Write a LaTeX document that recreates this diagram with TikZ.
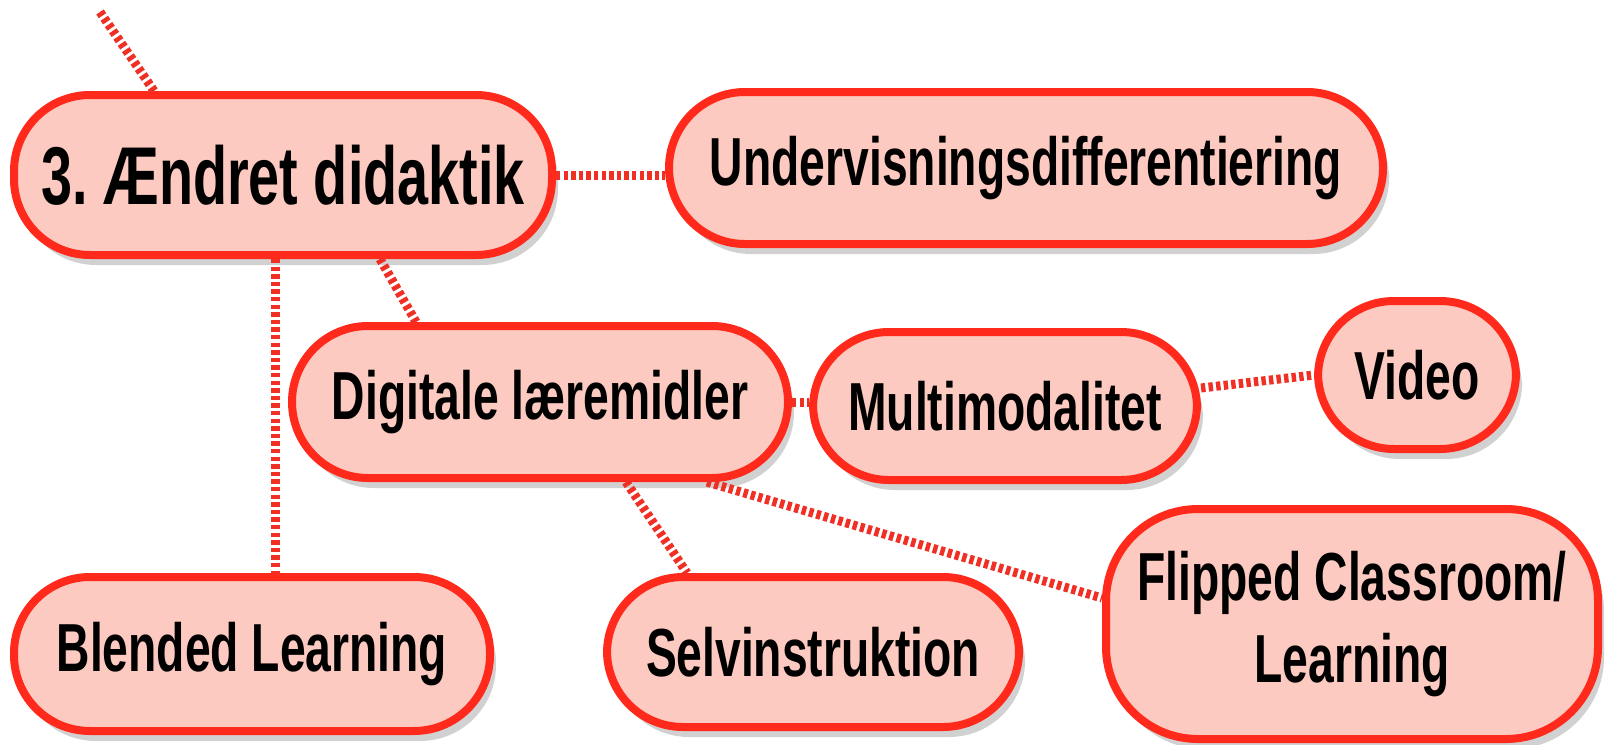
\documentclass[tikz,border=0pt]{standalone}
\usepackage{fontspec}
\setmainfont{Liberation Sans}[FakeStretch=0.68]
\usetikzlibrary{positioning,shadows,calc}
\definecolor{boxfill}{HTML}{FCCAC0}
\definecolor{boxline}{HTML}{FF2A1C}
\definecolor{linkred}{HTML}{F03024}
\frenchspacing
\begin{document}
\begin{tikzpicture}[x=0.5pt, y=-0.5pt, font=\bfseries\fontsize{34}{41}\selectfont, line join=round,
    topic/.style={draw=boxline, fill=boxfill, line width=4pt, rounded corners=38pt, align=center,
        inner sep=0pt, drop shadow={shadow xshift=3pt, shadow yshift=-5pt, opacity=.18, fill=black}},
    link/.style={draw=linkred, line width=4.5pt, dash pattern=on 2.2pt off 1.6pt}]
    \useasboundingbox (0,0) rectangle (1609,744);
    \node[topic, minimum width=269pt, minimum height=80pt, font=\bfseries\fontsize{41}{48}\selectfont] (ae) at (283,175) {3. Ændret didaktik};
    \node[topic, minimum width=357pt, minimum height=76pt] (ud) at (1026,168) {Undervisningsdifferentiering};
    \node[topic, minimum width=248pt, minimum height=76pt] (dl) at (540,402) {Digitale læremidler};
    \node[topic, minimum width=192pt, minimum height=74pt] (mm) at (1005,406) {Multimodalitet};
    \node[topic, minimum width=99pt, minimum height=74pt] (vi) at (1417,375) {Video};
    \node[topic, minimum width=238pt, minimum height=77pt] (bl) at (252,654) {Blended Learning};
    \node[topic, minimum width=206pt, minimum height=75pt] (si) at (813,652) {Selvinstruktion};
    \node[topic, rounded corners=46pt, minimum width=246pt, minimum height=115pt] (fc) at (1352,624) {Flipped Classroom/\\Learning};
    \coordinate (up) at (100,12);
    \draw[link] (up) -- ([xshift=-64.5pt]ae.north);
    \draw[link] (ae.east) -- (ae.east -| ud.west);
    \draw[link] ([xshift=48.5pt]ae.south) -- ([xshift=-62pt]dl.north);
    \draw[link] ([xshift=-4pt]ae.south) -- ([xshift=-4pt]ae.south |- bl.north);
    \draw[link] (dl.east) -- (dl.east -| mm.west);
    \draw[link] ([yshift=9pt]mm.east) -- (vi.west);
    \draw[link] ([xshift=43pt]dl.south) -- ([xshift=-63pt]si.north);
    \draw[link] ([xshift=83.5pt]dl.south) -- ([yshift=13pt]fc.west);
\end{tikzpicture}
\end{document}
